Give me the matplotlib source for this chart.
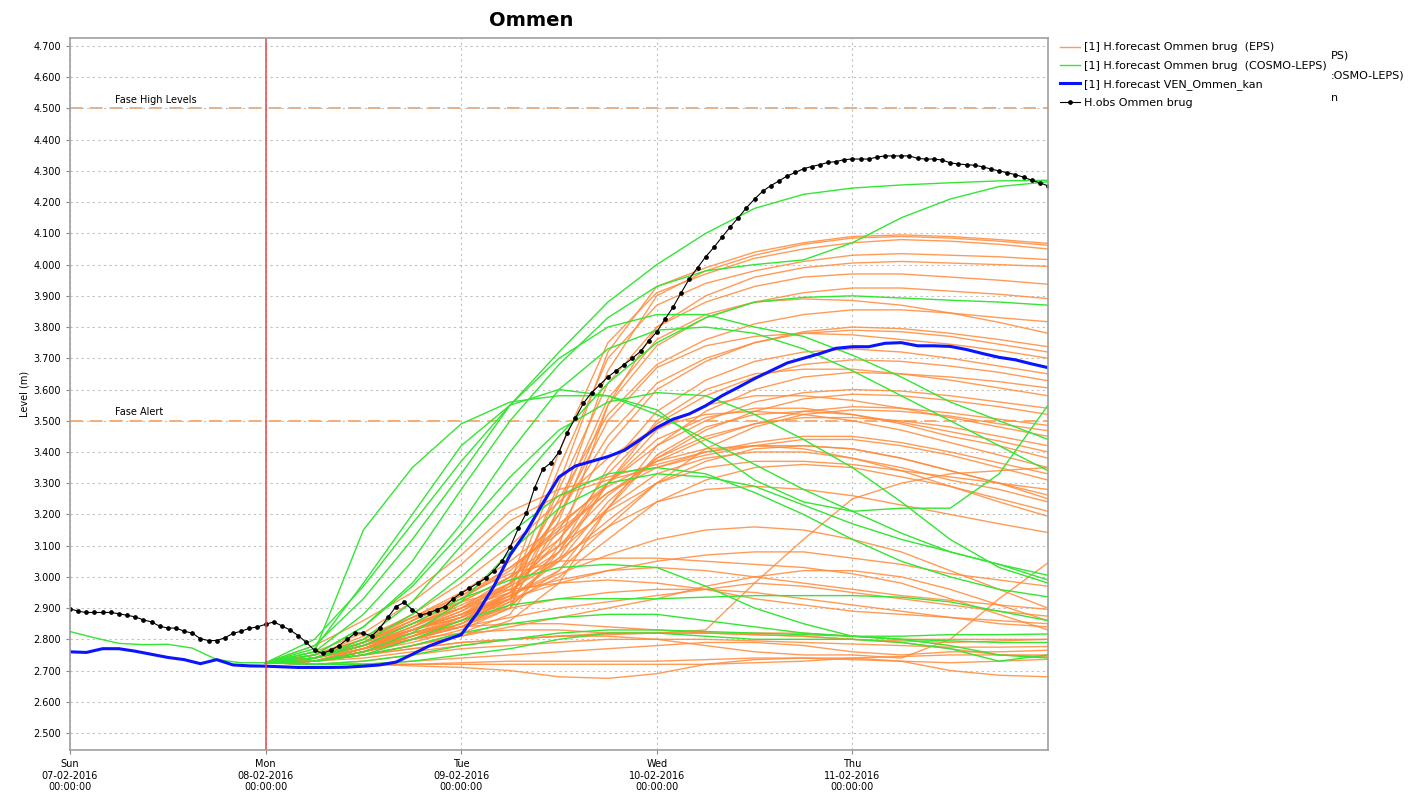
import numpy as np
import pandas as pd
import matplotlib
matplotlib.use('Agg')
import matplotlib.pyplot as plt
import matplotlib.dates as mdates

plt.rcParams['font.family'] = ['DejaVu Sans']

# observed water level, hourly from Sun 07-02-2016 00:00
obs_values = [
    2.898, 2.890, 2.886, 2.886, 2.886, 2.886, 2.882, 2.877, 2.872, 2.862, 2.856, 2.842,
    2.836, 2.836, 2.826, 2.820, 2.802, 2.796, 2.796, 2.805, 2.819, 2.826, 2.835, 2.840,
    2.848, 2.856, 2.843, 2.830, 2.812, 2.790, 2.765, 2.755, 2.765, 2.780, 2.800, 2.820,
    2.820, 2.810, 2.835, 2.870, 2.905, 2.918, 2.895, 2.878, 2.884, 2.895, 2.905, 2.930,
    2.948, 2.963, 2.980, 2.995, 3.020, 3.050, 3.095, 3.155, 3.205, 3.285, 3.345, 3.365,
    3.400, 3.462, 3.508, 3.556, 3.590, 3.615, 3.640, 3.660, 3.680, 3.700, 3.722, 3.755,
    3.785, 3.825, 3.864, 3.910, 3.955, 3.990, 4.025, 4.055, 4.088, 4.120, 4.150, 4.182,
    4.210, 4.235, 4.253, 4.268, 4.284, 4.295, 4.307, 4.314, 4.320, 4.327, 4.330, 4.336,
    4.338, 4.338, 4.338, 4.344, 4.348, 4.348, 4.348, 4.348, 4.340, 4.338, 4.338, 4.335,
    4.326, 4.322, 4.320, 4.318, 4.313, 4.306, 4.300, 4.294, 4.288, 4.280, 4.270, 4.262,
    4.252]

# deterministic forecast VEN_Ommen_kan, every 2 hours from Sun 00:00
ven_values = [
    2.760, 2.758, 2.770, 2.770, 2.762, 2.752, 2.742, 2.735, 2.722, 2.735, 2.718, 2.715,
    2.714, 2.712, 2.710, 2.710, 2.710, 2.711, 2.714, 2.718, 2.727, 2.752, 2.778, 2.797,
    2.815, 2.885, 2.970, 3.070, 3.145, 3.235, 3.320, 3.355, 3.370, 3.385, 3.405, 3.440,
    3.478, 3.505, 3.522, 3.548, 3.580, 3.607, 3.635, 3.660, 3.685, 3.700, 3.715, 3.732,
    3.737, 3.737, 3.748, 3.750, 3.740, 3.740, 3.738, 3.728, 3.715, 3.703, 3.695, 3.682,
    3.670]

# older COSMO-LEPS run, every 3 hours from Sun 00:00
cosmo_prev = [2.825, 2.805, 2.787, 2.783, 2.784, 2.772, 2.735, 2.725, 2.725]

# ensemble members, every 6 hours from Mon 08-02-2016 00:00 to Fri 00:00
eps_members = [
    [2.725, 2.74, 2.77, 2.80, 2.84, 2.92, 3.30, 3.72, 3.93, 3.99, 4.04, 4.07, 4.09, 4.095, 4.09, 4.08, 4.068],
    [2.725, 2.73, 2.76, 2.79, 2.83, 2.90, 3.22, 3.66, 3.90, 3.98, 4.03, 4.065, 4.085, 4.09, 4.085, 4.075, 4.062],
    [2.725, 2.75, 2.79, 2.83, 2.87, 2.98, 3.40, 3.75, 3.91, 3.97, 4.02, 4.05, 4.07, 4.08, 4.075, 4.065, 4.05],
    [2.725, 2.74, 2.78, 2.82, 2.86, 2.95, 3.35, 3.70, 3.87, 3.94, 3.98, 4.01, 4.03, 4.035, 4.03, 4.025, 4.016],
    [2.725, 2.73, 2.75, 2.78, 2.82, 2.88, 3.10, 3.55, 3.80, 3.90, 3.96, 3.99, 4.005, 4.01, 4.005, 4.00, 3.994],
    [2.725, 2.74, 2.77, 2.81, 2.85, 2.93, 3.28, 3.62, 3.80, 3.88, 3.93, 3.96, 3.97, 3.97, 3.96, 3.95, 3.937],
    [2.725, 2.73, 2.76, 2.80, 2.84, 2.91, 3.18, 3.55, 3.74, 3.83, 3.88, 3.91, 3.925, 3.925, 3.915, 3.905, 3.891],
    [2.725, 2.74, 2.78, 2.83, 2.88, 2.97, 3.25, 3.52, 3.68, 3.76, 3.81, 3.84, 3.855, 3.855, 3.845, 3.83, 3.817],
    [2.725, 2.73, 2.76, 2.80, 2.85, 2.93, 3.22, 3.57, 3.76, 3.84, 3.88, 3.89, 3.885, 3.87, 3.845, 3.815, 3.78],
    [2.725, 2.73, 2.77, 2.82, 2.86, 2.94, 3.15, 3.42, 3.60, 3.69, 3.75, 3.785, 3.80, 3.795, 3.78, 3.76, 3.737],
    [2.725, 2.74, 2.79, 2.85, 2.90, 3.00, 3.20, 3.45, 3.62, 3.70, 3.75, 3.78, 3.79, 3.785, 3.77, 3.745, 3.72],
    [2.725, 2.74, 2.78, 2.83, 2.89, 2.98, 3.20, 3.50, 3.67, 3.74, 3.77, 3.78, 3.775, 3.76, 3.745, 3.725, 3.70],
    [2.725, 2.73, 2.76, 2.80, 2.84, 2.90, 3.08, 3.35, 3.53, 3.63, 3.69, 3.72, 3.73, 3.72, 3.70, 3.675, 3.65],
    [2.725, 2.74, 2.78, 2.83, 2.87, 2.95, 3.12, 3.33, 3.49, 3.58, 3.64, 3.68, 3.695, 3.69, 3.675, 3.655, 3.628],
    [2.725, 2.73, 2.75, 2.78, 2.81, 2.86, 2.98, 3.22, 3.42, 3.53, 3.60, 3.64, 3.655, 3.65, 3.64, 3.625, 3.605],
    [2.725, 2.73, 2.77, 2.82, 2.87, 2.93, 3.06, 3.30, 3.50, 3.60, 3.65, 3.665, 3.665, 3.65, 3.63, 3.605, 3.58],
    [2.725, 2.74, 2.79, 2.86, 2.93, 3.02, 3.16, 3.30, 3.42, 3.50, 3.56, 3.59, 3.60, 3.595, 3.58, 3.56, 3.54],
    [2.725, 2.73, 2.76, 2.81, 2.86, 2.93, 3.05, 3.24, 3.38, 3.47, 3.53, 3.57, 3.585, 3.58, 3.565, 3.545, 3.52],
    [2.725, 2.75, 2.80, 2.87, 2.94, 3.03, 3.14, 3.27, 3.37, 3.44, 3.49, 3.53, 3.545, 3.54, 3.525, 3.505, 3.485],
    [2.725, 2.73, 2.77, 2.83, 2.88, 2.94, 3.02, 3.16, 3.30, 3.41, 3.48, 3.52, 3.535, 3.53, 3.515, 3.49, 3.468],
    [2.725, 2.74, 2.78, 2.83, 2.88, 2.95, 3.08, 3.30, 3.47, 3.55, 3.58, 3.58, 3.565, 3.54, 3.51, 3.48, 3.45],
    [2.725, 2.74, 2.78, 2.84, 2.90, 2.98, 3.10, 3.26, 3.38, 3.45, 3.49, 3.51, 3.51, 3.50, 3.48, 3.45, 3.42],
    [2.725, 2.73, 2.76, 2.80, 2.85, 2.91, 3.02, 3.22, 3.39, 3.48, 3.52, 3.53, 3.52, 3.495, 3.465, 3.435, 3.40],
    [2.725, 2.74, 2.78, 2.84, 2.92, 3.00, 3.12, 3.30, 3.44, 3.51, 3.54, 3.54, 3.52, 3.49, 3.45, 3.42, 3.38],
    [2.725, 2.75, 2.80, 2.88, 2.98, 3.10, 3.24, 3.38, 3.48, 3.52, 3.53, 3.52, 3.50, 3.47, 3.43, 3.39, 3.35],
    [2.725, 2.78, 2.86, 2.95, 3.07, 3.21, 3.28, 3.32, 3.36, 3.40, 3.43, 3.45, 3.45, 3.43, 3.40, 3.365, 3.33],
    [2.725, 2.76, 2.82, 2.92, 3.04, 3.18, 3.26, 3.31, 3.35, 3.39, 3.42, 3.44, 3.44, 3.42, 3.39, 3.35, 3.31],
    [2.725, 2.74, 2.79, 2.85, 2.92, 3.00, 3.10, 3.21, 3.30, 3.35, 3.37, 3.37, 3.36, 3.34, 3.32, 3.30, 3.28],
    [2.725, 2.74, 2.79, 2.86, 2.93, 3.03, 3.15, 3.27, 3.35, 3.40, 3.42, 3.42, 3.41, 3.38, 3.34, 3.30, 3.262],
    [2.725, 2.73, 2.77, 2.83, 2.89, 2.96, 3.05, 3.18, 3.30, 3.37, 3.41, 3.42, 3.41, 3.38, 3.34, 3.30, 3.25],
    [2.725, 2.74, 2.78, 2.84, 2.91, 2.98, 3.08, 3.22, 3.33, 3.38, 3.40, 3.40, 3.38, 3.35, 3.31, 3.28, 3.24],
    [2.725, 2.73, 2.76, 2.81, 2.86, 2.92, 3.00, 3.12, 3.24, 3.31, 3.35, 3.36, 3.35, 3.32, 3.29, 3.25, 3.21],
    [2.725, 2.74, 2.79, 2.87, 2.95, 3.05, 3.17, 3.29, 3.37, 3.41, 3.42, 3.41, 3.38, 3.34, 3.29, 3.24, 3.194],
    [2.725, 2.73, 2.77, 2.83, 2.90, 2.97, 3.06, 3.16, 3.24, 3.28, 3.29, 3.28, 3.26, 3.23, 3.20, 3.17, 3.142],
    [2.725, 2.73, 2.75, 2.77, 2.79, 2.80, 2.81, 2.82, 2.82, 2.83, 2.98, 3.12, 3.25, 3.30, 3.33, 3.34, 3.35],
    [2.725, 2.73, 2.75, 2.77, 2.79, 2.80, 2.81, 2.81, 2.80, 2.78, 2.76, 2.75, 2.75, 2.74, 2.80, 2.93, 3.045],
    [2.725, 2.73, 2.76, 2.81, 2.87, 2.94, 3.01, 3.07, 3.12, 3.15, 3.16, 3.15, 3.12, 3.08, 3.02, 2.96, 2.90],
    [2.725, 2.74, 2.78, 2.83, 2.88, 2.93, 2.98, 3.02, 3.05, 3.07, 3.08, 3.08, 3.06, 3.04, 3.01, 2.99, 2.97],
    [2.725, 2.74, 2.79, 2.86, 2.94, 3.01, 3.05, 3.06, 3.06, 3.05, 3.04, 3.03, 3.01, 2.98, 2.93, 2.88, 2.83],
    [2.725, 2.74, 2.79, 2.85, 2.90, 2.95, 2.99, 3.02, 3.03, 3.02, 3.00, 2.98, 2.96, 2.94, 2.925, 2.91, 2.896],
    [2.725, 2.73, 2.76, 2.80, 2.84, 2.87, 2.90, 2.92, 2.94, 2.96, 2.98, 2.97, 2.95, 2.93, 2.91, 2.89, 2.874],
    [2.725, 2.75, 2.81, 2.87, 2.92, 2.96, 2.98, 2.99, 2.98, 2.96, 2.93, 2.91, 2.89, 2.88, 2.87, 2.86, 2.85],
    [2.725, 2.73, 2.75, 2.78, 2.81, 2.84, 2.87, 2.90, 2.93, 2.97, 3.00, 3.02, 3.02, 3.00, 2.96, 2.91, 2.86],
    [2.725, 2.74, 2.77, 2.81, 2.86, 2.90, 2.93, 2.95, 2.96, 2.96, 2.95, 2.93, 2.91, 2.89, 2.87, 2.85, 2.84],
    [2.725, 2.74, 2.78, 2.82, 2.84, 2.85, 2.85, 2.84, 2.83, 2.82, 2.82, 2.82, 2.81, 2.80, 2.80, 2.80, 2.80],
    [2.725, 2.73, 2.76, 2.80, 2.82, 2.83, 2.83, 2.82, 2.82, 2.82, 2.815, 2.81, 2.80, 2.795, 2.79, 2.795, 2.80],
    [2.725, 2.73, 2.74, 2.76, 2.78, 2.80, 2.81, 2.815, 2.82, 2.82, 2.815, 2.81, 2.80, 2.79, 2.77, 2.75, 2.745],
    [2.725, 2.72, 2.73, 2.75, 2.77, 2.78, 2.79, 2.80, 2.80, 2.80, 2.795, 2.79, 2.785, 2.78, 2.775, 2.775, 2.777],
    [2.725, 2.72, 2.72, 2.73, 2.74, 2.75, 2.76, 2.77, 2.78, 2.79, 2.79, 2.78, 2.76, 2.75, 2.76, 2.76, 2.765],
    [2.725, 2.72, 2.72, 2.72, 2.725, 2.73, 2.73, 2.73, 2.73, 2.735, 2.74, 2.74, 2.735, 2.73, 2.725, 2.73, 2.736],
    [2.725, 2.72, 2.72, 2.72, 2.72, 2.72, 2.72, 2.72, 2.72, 2.72, 2.725, 2.73, 2.74, 2.745, 2.75, 2.75, 2.75],
    [2.725, 2.72, 2.72, 2.715, 2.71, 2.70, 2.68, 2.675, 2.69, 2.72, 2.735, 2.74, 2.74, 2.73, 2.70, 2.685, 2.68],
]

cosmo_members = [
    [2.725, 2.80, 2.97, 3.17, 3.37, 3.55, 3.72, 3.88, 4.00, 4.10, 4.18, 4.225, 4.245, 4.255, 4.262, 4.268, 4.27],
    [2.725, 2.76, 2.88, 3.05, 3.28, 3.50, 3.68, 3.83, 3.93, 3.98, 4.00, 4.015, 4.07, 4.15, 4.21, 4.25, 4.265],
    [2.725, 2.74, 2.80, 2.92, 3.10, 3.27, 3.45, 3.62, 3.75, 3.83, 3.88, 3.895, 3.90, 3.893, 3.886, 3.88, 3.87],
    [2.725, 2.78, 2.93, 3.12, 3.33, 3.55, 3.70, 3.80, 3.84, 3.84, 3.80, 3.77, 3.71, 3.64, 3.56, 3.50, 3.44],
    [2.725, 2.75, 2.84, 2.98, 3.17, 3.40, 3.60, 3.73, 3.79, 3.80, 3.78, 3.73, 3.66, 3.58, 3.50, 3.42, 3.34],
    [2.725, 2.76, 3.15, 3.35, 3.49, 3.56, 3.58, 3.58, 3.535, 3.42, 3.31, 3.24, 3.21, 3.22, 3.22, 3.33, 3.55],
    [2.725, 2.77, 2.98, 3.20, 3.42, 3.55, 3.60, 3.58, 3.52, 3.44, 3.36, 3.28, 3.21, 3.14, 3.08, 3.04, 3.005],
    [2.725, 2.75, 2.84, 2.97, 3.14, 3.32, 3.47, 3.56, 3.59, 3.58, 3.52, 3.44, 3.35, 3.24, 3.12, 3.03, 2.98],
    [2.725, 2.73, 2.76, 2.82, 2.92, 3.08, 3.22, 3.30, 3.33, 3.32, 3.29, 3.23, 3.17, 3.12, 3.08, 3.04, 2.99],
    [2.725, 2.74, 2.79, 2.88, 3.00, 3.14, 3.26, 3.33, 3.35, 3.33, 3.27, 3.20, 3.12, 3.05, 3.00, 2.96, 2.936],
    [2.725, 2.73, 2.75, 2.80, 2.86, 2.91, 2.93, 2.93, 2.93, 2.935, 2.94, 2.94, 2.94, 2.935, 2.92, 2.89, 2.86],
    [2.725, 2.74, 2.78, 2.85, 2.93, 2.99, 3.03, 3.04, 3.03, 2.97, 2.90, 2.85, 2.81, 2.80, 2.795, 2.79, 2.79],
    [2.725, 2.73, 2.75, 2.78, 2.82, 2.85, 2.87, 2.88, 2.88, 2.86, 2.84, 2.82, 2.81, 2.80, 2.78, 2.75, 2.74],
    [2.725, 2.72, 2.73, 2.75, 2.78, 2.80, 2.82, 2.83, 2.83, 2.825, 2.82, 2.815, 2.81, 2.81, 2.815, 2.815, 2.817],
    [2.725, 2.72, 2.72, 2.73, 2.75, 2.77, 2.80, 2.82, 2.82, 2.81, 2.80, 2.80, 2.80, 2.79, 2.77, 2.73, 2.75],
]

thresholds = [4.5, 3.5]
threshold_names = ['Fase High Levels', 'Fase Alert']

obs_times = pd.date_range('2016-02-07', periods=len(obs_values), freq='h')
ven_times = pd.date_range('2016-02-07', periods=len(ven_values), freq='2h')
prev_times = pd.date_range('2016-02-07', periods=len(cosmo_prev), freq='3h')
ens_times = pd.date_range('2016-02-08', periods=17, freq='6h')
day_ticks = pd.date_range('2016-02-07', periods=5, freq='D')

fig = plt.figure(figsize=(14.14, 7.95), dpi=100)
ax = fig.add_axes([70/1414, 45/795, 978/1414, 712/795])

eps_col = '#ff8a3a'
cosmo_col = '#33e633'

for i, m in enumerate(eps_members):
    ax.plot(ens_times, m, color=eps_col, lw=1.0, alpha=0.85,
            label='[1] H.forecast Ommen brug  (EPS)' if i == 0 else None)
ax.plot(prev_times, cosmo_prev, color=cosmo_col, lw=1.0)
for i, m in enumerate(cosmo_members):
    ax.plot(ens_times, m, color=cosmo_col, lw=1.0,
            label='[1] H.forecast Ommen brug  (COSMO-LEPS)' if i == 0 else None)

ax.plot(ven_times, ven_values, color='#0a14ff', lw=2.2, label='[1] H.forecast VEN_Ommen_kan')
ax.plot(obs_times, obs_values, color='black', lw=0.8, marker='o', ms=2.4,
        label='H.obs Ommen brug')

for t, name in zip(thresholds, threshold_names):
    ax.axhline(t, color='#f7a565', lw=1.3, dashes=(7, 4), zorder=1)
    ax.text(pd.Timestamp('2016-02-07 05:30'), t + 0.012, name, fontsize=7, va='bottom')

ax.axvline(pd.Timestamp('2016-02-08'), color='#ee4444', lw=1.1)

ax.set_xlim(pd.Timestamp('2016-02-07'), pd.Timestamp('2016-02-12'))
ax.set_ylim(2.4456, 4.7256)
ax.set_yticks(np.arange(2.5, 4.75, 0.1))
ax.yaxis.set_major_formatter(plt.FuncFormatter(lambda v, p: f'{v:.3f}'))
ax.set_xticks(day_ticks)
ax.xaxis.set_major_formatter(mdates.DateFormatter('%a\n%d-%m-%Y\n%H:%M:%S'))
ax.tick_params(labelsize=7, length=3, color='#888888')
ax.grid(True, color='#c0c0c0', ls=(0, (2, 3)), lw=0.8)
for s in ax.spines.values():
    s.set_color('#a0a0a0')
    s.set_linewidth(1.2)

ax.set_ylabel('Level (m)', fontsize=7, labelpad=3)
fig.text(531/1414, 1 - 20/795, 'Ommen', fontsize=14, fontweight='bold', ha='center', va='center')

fig.legend(loc='upper left', bbox_to_anchor=(1056/1414, 1 - 38/795), frameon=False,
           fontsize=8, handlelength=1.8, handletextpad=0.3, labelspacing=0.75,
           borderaxespad=0)

# overlapping text left over from a second legend
fig.text(1331/1414, 1 - 55/795, 'PS)', fontsize=8, va='center')
fig.text(1331/1414, 1 - 76/795, ':OSMO-LEPS)', fontsize=8, va='center')
fig.text(1331/1414, 1 - 98/795, 'n', fontsize=8, va='center')

fig.savefig('out.png', dpi=100)
